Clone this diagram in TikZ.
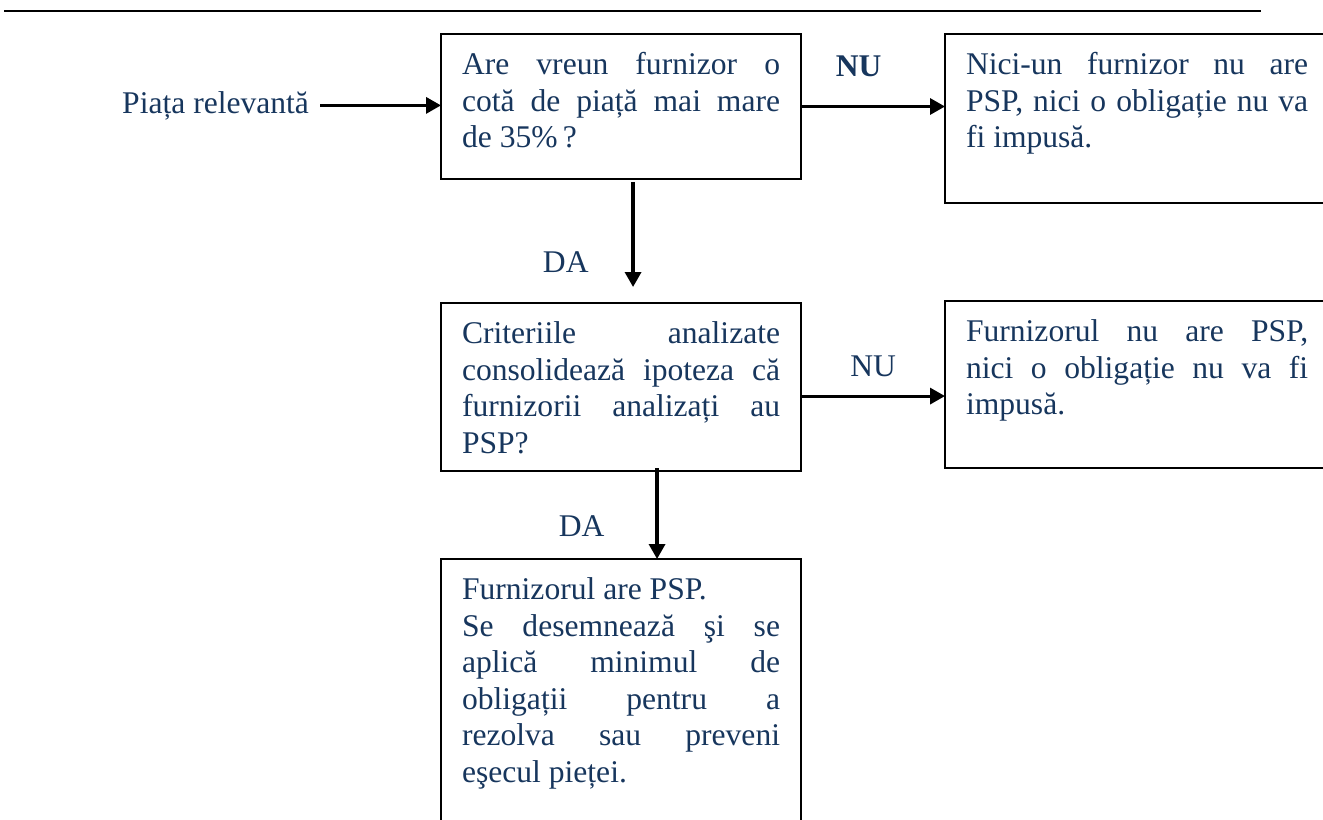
\documentclass[tikz,border=0pt]{standalone}
\usepackage{fontspec}
\setmainfont{Liberation Serif}
\usepackage{xcolor}
\usepackage{tikz}
\usetikzlibrary{arrows.meta, positioning, calc}
\definecolor{textblue}{RGB}{23,54,93}

\begin{document}
\begin{tikzpicture}[x=0.38pt,y=-0.38pt,>={Triangle[length=5.7pt,width=6.1pt]},
			every node/.style={text=textblue,font={\fontsize{12}{13.87}\selectfont\tolerance 10000 \hyphenpenalty 10000 }},
			box node/.style={draw=black,line width=1pt,anchor=north west,outer sep=0pt,inner xsep=8pt,inner ysep=0pt,
				align=justify,text width=#1,text height=15.4pt},
			answer node/.style={inner sep=0pt},
			link/.style={->,line width=1.2pt}]
			
			\path[use as bounding box] (0,0) rectangle (1323,820);
			\clip (0,0) rectangle (1323,820);
			\draw[line width=0.9pt] (4,11) -- (1261,11);
			
			\node[box node=120.84pt,text depth=39.7pt] (q1) at (441,34) {Are vreun furnizor o\linebreak cotă de piață mai mare\linebreak de 35\%\,?};
			\node[box node=130pt,text depth=48.8pt] (q2) at (945,34) {Nici-un furnizor nu are\linebreak PSP, nici o obligație nu va\linebreak fi impusă.};
			\node[box node=120.84pt,text depth=48.5pt] (q3) at (441,303) {Criteriile analizate\linebreak consolidează ipoteza că\linebreak furnizorii analizați au\linebreak PSP?};
			\node[box node=130pt,text depth=48.1pt] (q4) at (945,301) {Furnizorul nu are PSP,\linebreak nici o obligație nu va fi\linebreak impusă.};
			\node[box node=120.84pt,text depth=99pt] (q5) at (441,559) {Furnizorul are PSP.\\ Se desemnează şi se\linebreak aplică minimul de\linebreak obligații pentru a\linebreak rezolva sau preveni\linebreak eşecul pieței.};
			\node[anchor=base east,inner xsep=4pt] (src) at (320,113) {Piața relevantă};
			
			\coordinate (d1) at ($(q1.south)+(12,3)$);
			\coordinate (d1e) at ($(d1 |- q3.north)+(0,-16)$);
			\coordinate (d2) at ($(q3.south)+(36,-3)$);
			\coordinate (n2) at ($(q3.east)+(0,9)$);
			
			\draw[link] (src.east) -- (src.east -| q1.west);
			\draw[link] (q1.east) -- node[answer node,above=10.8pt,pos=0.4] {\textbf{NU}} (q1.east -| q2.west);
			\draw[link] (d1) -- node[answer node,left=16.3pt,pos=0.76] {DA} (d1e);
			\draw[link] (n2) -- node[answer node,above=6.8pt] {NU} (n2 -| q4.west);
			\draw[link] (d2) -- node[answer node,left=19.4pt,pos=0.64] {DA} (d2 |- q5.north);
		\end{tikzpicture}
\end{document}
